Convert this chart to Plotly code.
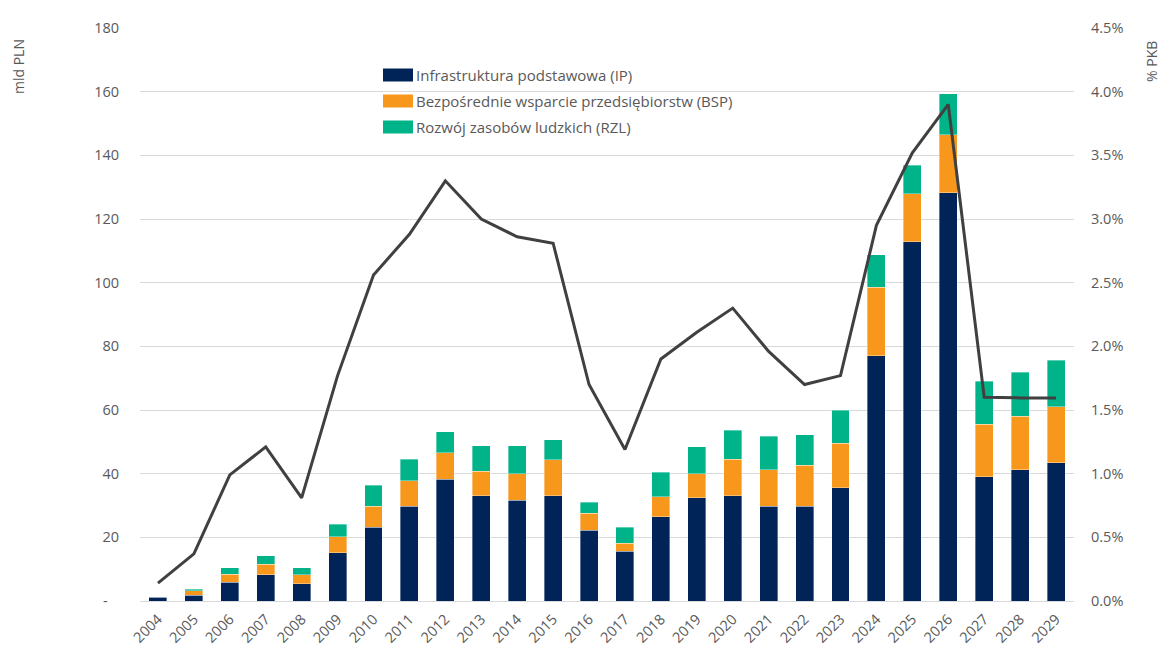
import plotly.graph_objects as go

years = [str(y) for y in range(2004, 2030)]
ip = [1.2, 1.8, 5.9, 8.3, 5.4, 15.2, 23.2, 29.8, 38.3, 33.0, 31.7, 33.0, 22.3, 15.7, 26.4, 32.4,
      33.0, 29.8, 29.8, 35.5, 77.1, 112.8, 128.3, 39.0, 41.2, 43.4]
bsp = [0.1, 1.4, 2.5, 3.2, 2.8, 5.0, 6.6, 7.9, 8.2, 7.8, 8.2, 11.3, 5.3, 2.5, 6.3, 7.5,
       11.6, 11.4, 12.9, 14.1, 21.4, 15.2, 18.1, 16.6, 16.9, 17.6]
rzl = [0.0, 0.5, 2.0, 2.7, 2.2, 3.9, 6.6, 6.9, 6.6, 7.9, 8.8, 6.3, 3.5, 5.0, 7.8, 8.5,
       9.1, 10.6, 9.5, 10.4, 10.2, 8.9, 12.9, 13.5, 13.8, 14.7]
pkb = [0.14, 0.37, 0.99, 1.21, 0.81, 1.77, 2.56, 2.88, 3.30, 3.00, 2.86, 2.81, 1.70, 1.19, 1.90, 2.11,
       2.30, 1.96, 1.70, 1.77, 2.95, 3.52, 3.90, 1.60, 1.595, 1.595]
pkb_frac = [v / 100 for v in pkb]

series_names = ["Infrastruktura podstawowa (IP)",
                "Bezpośrednie wsparcie przedsiębiorstw (BSP)",
                "Rozwój zasobów ludzkich (RZL)"]
colors = ["#002458", "#F7981D", "#00B388"]

left_ticks = list(range(0, 181, 20))
left_ticktext = ["-\u00a0\u00a0\u00a0"] + [str(v) for v in left_ticks[1:]]

fig = go.Figure()
for name, vals, col in zip(series_names, [ip, bsp, rzl], colors):
    fig.add_trace(go.Bar(x=years, y=vals, name=name, marker_color=col,
                         marker_line=dict(color="rgba(255,255,255,0.6)", width=0.6),
                         showlegend=False))
fig.add_trace(go.Scatter(x=years, y=pkb_frac, yaxis="y2", mode="lines", name="% PKB",
                         line=dict(color="#404040", width=3), showlegend=False))

# page body has an 8px margin, so the figure is offset by 8px right/down
OFF = 8
W, H = 1174 - OFF, 651 - OFF
PL, PR, PT, PB = 140, 1074, 28, 601  # plot area in screenshot pixels
PW, PH = PR - PL, PB - PT

font_fam = "Open Sans, Liberation Sans, sans-serif"
fig.update_layout(
    width=W, height=H,
    barmode="stack", bargap=0.5,
    plot_bgcolor="white", paper_bgcolor="white",
    margin=dict(l=PL - OFF, r=W - (PR - OFF), t=PT - OFF, b=H - (PB - OFF)),
    font=dict(family=font_fam, size=14, color="#595959"),
    xaxis=dict(type="category", tickangle=-45, showgrid=False, showline=True, automargin=False,
               linecolor="#D9D9D9", linewidth=1, ticks="", ticklabelstandoff=3,
               tickfont=dict(size=14.5, color="#595959")),
    yaxis=dict(range=[0, 180], tickvals=left_ticks, ticktext=left_ticktext, automargin=False,
               showgrid=True, gridcolor="#D9D9D9", gridwidth=1, zeroline=False,
               ticks="", ticklabelstandoff=20, tickfont=dict(size=14.5, color="#595959")),
    yaxis2=dict(range=[0, 0.045], overlaying="y", side="right", tickformat=".1%", automargin=False,
                dtick=0.005, showgrid=False, zeroline=False, ticks="",
                ticklabelstandoff=16, tickfont=dict(size=14.5, color="#595959")),
    showlegend=False,
)

# Axis titles
fig.add_annotation(text="mld PLN", xref="paper", yref="paper", x=(18 - PL) / PW, y=(PB - 67) / PH,
                   textangle=-90, showarrow=False, xanchor="center", yanchor="middle",
                   font=dict(size=14, color="#595959"))
fig.add_annotation(text="% PKB", xref="paper", yref="paper", x=(1152 - PL) / PW, y=(PB - 62) / PH,
                   textangle=-90, showarrow=False, xanchor="center", yanchor="middle",
                   font=dict(size=14, color="#595959"))

# Manual legend
leg_x0 = (383 - PL) / PW
leg_w = 30 / PW
leg_ys = [(PB - 75) / PH, (PB - 101) / PH, (PB - 127) / PH]
for name, col, ly in zip(series_names, colors, leg_ys):
    fig.add_shape(type="rect", xref="paper", yref="paper",
                  x0=leg_x0, x1=leg_x0 + leg_w, y0=ly - 6.5 / PH, y1=ly + 6.5 / PH,
                  fillcolor=col, line=dict(width=0))
    fig.add_annotation(text=name, xref="paper", yref="paper", x=leg_x0 + leg_w + 1 / PW, y=ly,
                       xanchor="left", yanchor="middle", showarrow=False,
                       font=dict(size=15, color="#595959"))

fig.write_html("out.html")
